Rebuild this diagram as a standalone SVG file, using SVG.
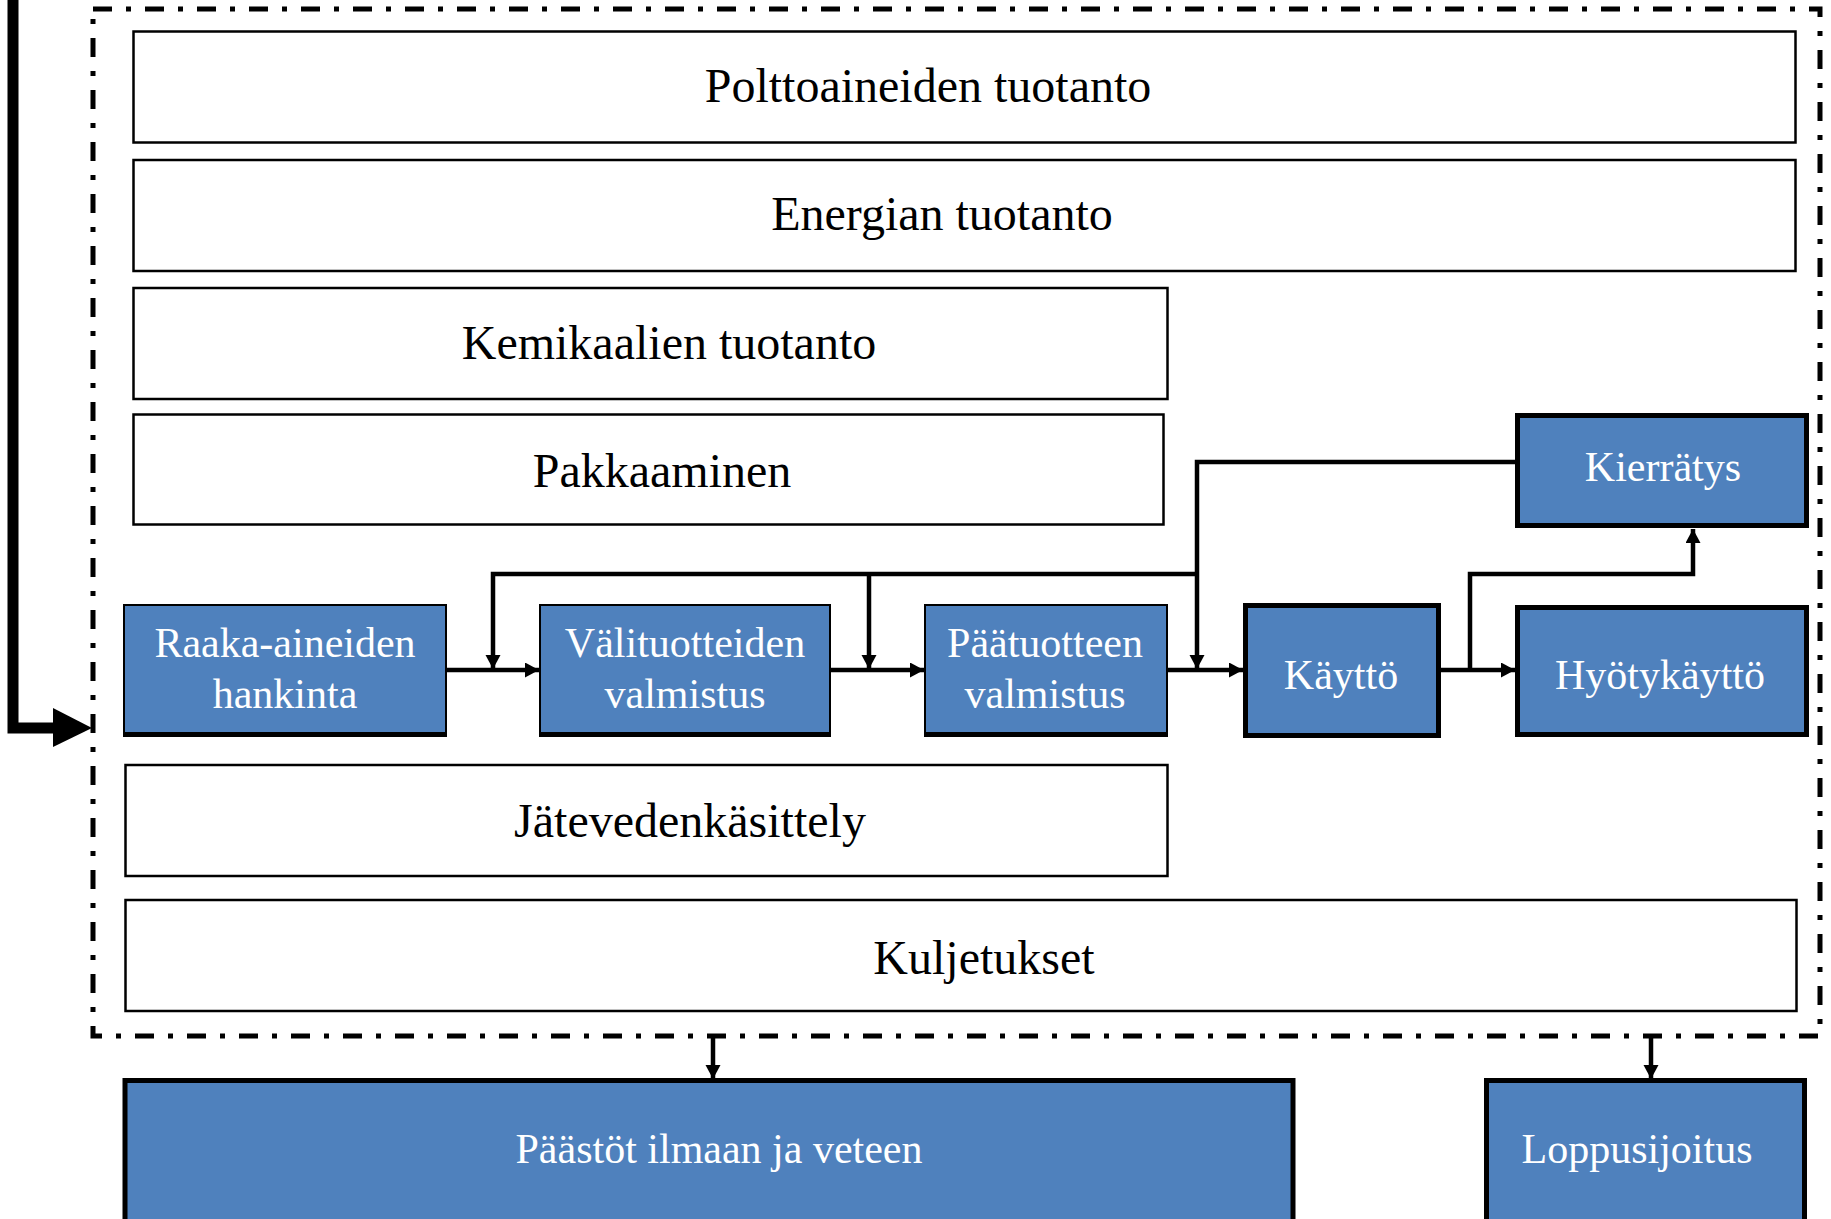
<svg xmlns="http://www.w3.org/2000/svg" width="1831" height="1219" viewBox="0 0 1831 1219">
<style>
.wbox{fill:#fff;stroke:#000;stroke-width:2.5}
.bthick{fill:#4F81BD;stroke:#000;stroke-width:5}
.bfill{fill:#4F81BD}
.wt{font-family:"Liberation Serif","Times New Roman",serif;font-size:48px;fill:#000;text-anchor:middle}
.bt{font-family:"Liberation Serif","Times New Roman",serif;font-size:42px;fill:#fff;text-anchor:middle}
.conn{fill:none;stroke:#000;stroke-width:4.5}
</style>
<defs>
<marker id="ah" markerUnits="userSpaceOnUse" markerWidth="16" markerHeight="16" refX="14" refY="7.5" orient="auto">
<path d="M0,0 L14,7.5 L0,15 z" fill="#000"/>
</marker>
</defs>
<rect width="1831" height="1219" fill="#fff"/>
<g id="boundary">
<rect x="93" y="9" width="1727" height="1027" fill="none" stroke="#000" stroke-width="5" stroke-dasharray="19 14 5 14"/>
</g>
<g id="feedback">
<path d="M13,0 V728 H56" fill="none" stroke="#000" stroke-width="11"/>
<polygon points="53,708 92,728 53,747" fill="#000"/>
</g>
<g id="n-polttoaineet"><rect class="wbox" x="133.5" y="31.5" width="1662" height="111"/><text class="wt" x="928" y="102">Polttoaineiden tuotanto</text></g>
<g id="n-energia"><rect class="wbox" x="133.5" y="160" width="1662" height="111"/><text class="wt" x="942" y="230">Energian tuotanto</text></g>
<g id="n-kemikaalit"><rect class="wbox" x="133.5" y="288" width="1034" height="111"/><text class="wt" x="669" y="359">Kemikaalien tuotanto</text></g>
<g id="n-pakkaaminen"><rect class="wbox" x="133.5" y="414.5" width="1030" height="110"/><text class="wt" x="662" y="487">Pakkaaminen</text></g>
<g id="n-jatevesi"><rect class="wbox" x="125.5" y="765" width="1042" height="111"/><text class="wt" x="690" y="837">Jätevedenkäsittely</text></g>
<g id="n-kuljetukset"><rect class="wbox" x="125.5" y="900" width="1671" height="111"/><text class="wt" x="984" y="974">Kuljetukset</text></g>
<g id="n-raaka"><rect x="123" y="604" width="324" height="133" fill="#000"/><rect class="bfill" x="125" y="606" width="320" height="126"/><text class="bt" x="285" y="657">Raaka-aineiden</text><text class="bt" x="285" y="708">hankinta</text></g>
<g id="n-vali"><rect x="539" y="604" width="292" height="133" fill="#000"/><rect class="bfill" x="541" y="606" width="288" height="126"/><text class="bt" x="685" y="657">Välituotteiden</text><text class="bt" x="685" y="708">valmistus</text></g>
<g id="n-paa"><rect x="924" y="604" width="244" height="133" fill="#000"/><rect class="bfill" x="926" y="606" width="240" height="126"/><text class="bt" x="1045" y="657">Päätuotteen</text><text class="bt" x="1045" y="708">valmistus</text></g>
<g id="n-kaytto"><rect class="bthick" x="1245.5" y="605.5" width="193" height="130"/><text class="bt" x="1341" y="689">Käyttö</text></g>
<g id="n-hyoty"><rect class="bthick" x="1517.5" y="607.5" width="289" height="127"/><text class="bt" x="1660" y="689">Hyötykäyttö</text></g>
<g id="n-kierratys"><rect class="bthick" x="1517.5" y="415.5" width="289" height="110"/><text class="bt" x="1663" y="481">Kierrätys</text></g>
<g id="n-paastot"><rect class="bthick" x="125" y="1080.5" width="1168" height="200"/><text class="bt" x="719" y="1163">Päästöt ilmaan ja veteen</text></g>
<g id="n-loppu"><rect class="bthick" x="1486.5" y="1080.5" width="318" height="200"/><text class="bt" x="1637" y="1163">Loppusijoitus</text></g>
<g id="connectors">
<path class="conn" d="M447,670 H539" marker-end="url(#ah)"/>
<path class="conn" d="M831,670 H924" marker-end="url(#ah)"/>
<path class="conn" d="M1168,670 H1243" marker-end="url(#ah)"/>
<path class="conn" d="M1441,670 H1515" marker-end="url(#ah)"/>
<path class="conn" d="M1515,462 H1197 V669" marker-end="url(#ah)"/>
<path class="conn" d="M1197,574 H493 V669" marker-end="url(#ah)"/>
<path class="conn" d="M869,574 V669" marker-end="url(#ah)"/>
<path class="conn" d="M1470,670 V574 H1693 V529" marker-end="url(#ah)"/>
<path class="conn" d="M713,1037 V1079" marker-end="url(#ah)"/>
<path class="conn" d="M1651,1037 V1079" marker-end="url(#ah)"/>
</g>
</svg>
